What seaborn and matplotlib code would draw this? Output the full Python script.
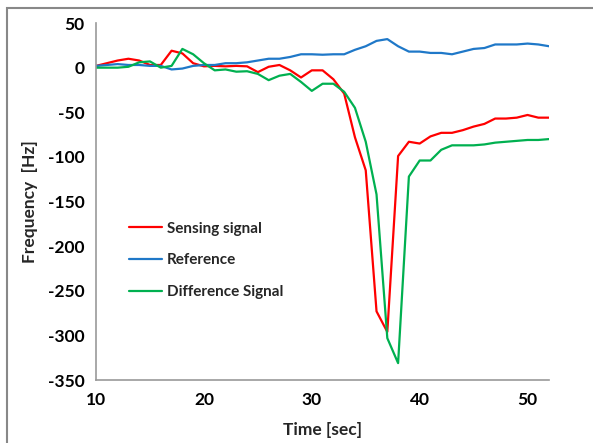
import pandas as pd
import matplotlib.pyplot as plt
import seaborn as sns
from matplotlib.patches import Rectangle

time = list(range(10, 53))
sensing = [2, 5, 8, 10, 8, 3, 3, 19, 16, 5, 1.5, 2, 1.5, 2, 1.5, -5, 1, 3, -3, -11,
           -3, -3, -13, -29, -78, -115, -273, -296, -99, -83, -85, -77, -73, -73, -70,
           -66, -63, -57, -57, -56, -53, -56, -56]
reference = [2, 3, 4, 3, 3, 2, 2, -2, -1, 2, 3, 3, 5, 5, 6, 8, 10, 10, 12, 15,
             15, 14.5, 15, 15, 20, 24, 30, 32, 24, 18, 18, 16.5, 16.5, 15, 18,
             21, 22, 26, 26, 26, 27, 26, 24]
difference = [0, 0, 0, 1, 6, 7, 0, 2, 21, 15, 5, -3, -2, -4.5, -4, -7, -14, -9, -7, -16,
              -26, -18, -18, -27, -45, -83, -142, -303, -331, -122, -104, -104, -92, -87, -87,
              -87, -86, -84, -83, -82, -81, -81, -80]

names = ["Sensing signal", "Reference", "Difference Signal"]
colors = ["#FF0000", "#1F78C8", "#00B050"]

df = pd.DataFrame({"Time": time, names[0]: sensing, names[1]: reference, names[2]: difference})
df_long = df.melt(id_vars="Time", var_name="Signal", value_name="Frequency")

sns.set_style("white")
plt.rcParams["font.family"] = ["Lato", "DejaVu Sans"]
plt.rcParams["font.weight"] = "bold"
plt.rcParams["axes.unicode_minus"] = False

fig = plt.figure(figsize=(5.93, 4.43), dpi=100)
ax = fig.add_axes([0.162, 0.142, 0.764, 0.806])

sns.lineplot(data=df_long, x="Time", y="Frequency", hue="Signal", hue_order=names,
             palette=colors, linewidth=1.6, ax=ax)

ax.set_xlim(10, 52)
ax.set_ylim(-350, 50)
ax.set_xticks([10, 20, 30, 40, 50])
ax.set_yticks(range(-350, 51, 50))
ax.tick_params(axis="both", labelsize=12.5, colors="#888888", labelcolor="black",
               length=5, width=1, direction="out")
for lab in ax.get_xticklabels() + ax.get_yticklabels():
    lab.set_fontweight("bold")
sns.despine(ax=ax)
for s in ["left", "bottom"]:
    ax.spines[s].set_color("#999999")
    ax.spines[s].set_linewidth(1.2)

ax.set_xlabel("Time [sec]", fontsize=12.5, fontweight="bold", labelpad=10)
ax.set_ylabel("Frequency  [Hz]", fontsize=12.5, fontweight="bold", labelpad=7)

ax.legend(loc="upper left", bbox_to_anchor=(0.042, 0.482), frameon=False, fontsize=11,
          handlelength=2.2, labelspacing=1.15, handletextpad=0.3)

# outer chart border (cropped at right and bottom)
fig.patches.append(Rectangle((7 / 593, -0.1), 1.2, 1 - 8 / 443 + 0.1, transform=fig.transFigure,
                             fill=False, edgecolor="#888888", linewidth=1.5))

fig.savefig("out.png", dpi=100)
